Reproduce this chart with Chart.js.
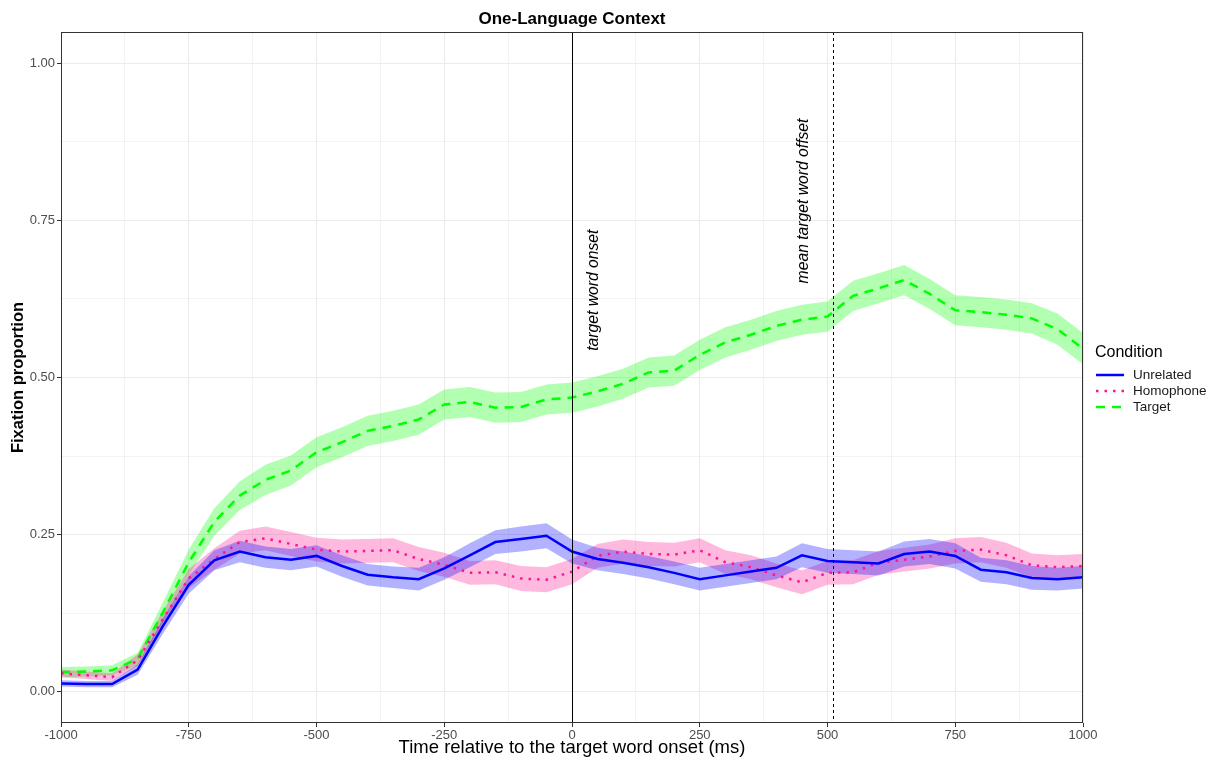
<!DOCTYPE html>
<html>
<head>
<meta charset="utf-8">
<script src="https://cdn.jsdelivr.net/npm/chart.js@4.4.1/dist/chart.umd.min.js"></script>
<style>
  body { margin: 0; background: #fff; }
  canvas { display: block; }
</style>
</head>
<body>
<canvas id="myChart" width="1222" height="760"></canvas>
<script>
// time bins (ms relative to target word onset)
var timeMs = [-1000,-950,-900,-850,-800,-750,-700,-650,-600,-550,-500,-450,-400,-350,-300,-250,-200,-150,-100,-50,
  0,50,100,150,200,250,300,350,400,450,500,550,600,650,700,750,800,850,900,950,1000];

// fixation proportions per condition
var unrelated = [0.013,0.012,0.012,0.035,0.105,0.170,0.209,0.223,0.214,0.210,0.216,0.200,0.186,0.182,0.179,0.196,0.217,0.238,0.243,0.248,
  0.223,0.211,0.205,0.198,0.189,0.179,0.185,0.191,0.197,0.217,0.208,0.206,0.204,0.219,0.223,0.216,0.194,0.190,0.181,0.179,0.182];
var homophone = [0.029,0.026,0.023,0.050,0.116,0.180,0.211,0.238,0.244,0.235,0.226,0.223,0.224,0.225,0.211,0.202,0.189,0.190,0.180,0.178,
  0.191,0.216,0.223,0.219,0.218,0.225,0.206,0.198,0.185,0.174,0.189,0.190,0.205,0.210,0.215,0.224,0.226,0.217,0.201,0.198,0.200];
var target = [0.031,0.032,0.034,0.052,0.127,0.206,0.270,0.312,0.337,0.352,0.381,0.397,0.415,0.423,0.433,0.457,0.461,0.452,0.453,0.465,
  0.468,0.478,0.490,0.508,0.511,0.536,0.556,0.568,0.582,0.592,0.597,0.630,0.642,0.655,0.633,0.607,0.604,0.600,0.594,0.577,0.546];

// ribbon half widths (standard error)
var seUnrelated = [0.005,0.005,0.005,0.008,0.012,0.014,0.016,0.017,0.017,0.017,0.017,0.017,0.017,0.017,0.018,0.018,0.019,0.019,0.020,0.020,
  0.019,0.018,0.018,0.018,0.018,0.018,0.018,0.018,0.018,0.019,0.019,0.019,0.019,0.020,0.020,0.020,0.019,0.019,0.019,0.018,0.018];
var seHomophone = [0.006,0.006,0.006,0.009,0.013,0.015,0.017,0.018,0.019,0.019,0.019,0.019,0.019,0.019,0.019,0.019,0.019,0.019,0.020,0.020,
  0.020,0.019,0.019,0.019,0.019,0.019,0.019,0.019,0.019,0.019,0.019,0.019,0.019,0.019,0.019,0.020,0.020,0.020,0.019,0.019,0.019];
var seTarget = [0.008,0.008,0.008,0.010,0.016,0.020,0.022,0.023,0.024,0.024,0.024,0.024,0.024,0.024,0.024,0.024,0.024,0.024,0.024,0.024,
  0.024,0.024,0.024,0.024,0.024,0.024,0.024,0.024,0.024,0.024,0.024,0.024,0.024,0.024,0.024,0.024,0.024,0.024,0.024,0.025,0.025];

var conditions = ['Unrelated', 'Homophone', 'Target'];
var xTicks = [-1000,-750,-500,-250,0,250,500,750,1000];
var yTicks = [0,0.25,0.5,0.75,1];
var onsetMs = 0;
var meanOffsetMs = 511;

var FONT = '"Liberation Sans", Arial, sans-serif';

function pts(arr) {
    return timeMs.map(function (t, i) { return {x: t, y: arr[i]}; });
}
function band(arr, se, sign) {
    return timeMs.map(function (t, i) { return {x: t, y: arr[i] + sign * se[i]}; });
}
function withMinors(major) {
    var out = [];
    for (var i = 0; i < major.length; i++) {
        out.push(major[i]);
        if (i < major.length - 1) out.push((major[i] + major[i + 1]) / 2);
    }
    return out;
}

var lineStyle = {pointRadius: 0, tension: 0, fill: false};

var decor = {
    id: 'decor',
    afterDatasetsDraw: function (chart) {
        var c = chart.ctx, a = chart.chartArea;
        var xs = chart.scales.x;
        c.save();
        c.strokeStyle = '#000';
        c.lineWidth = 1;
        var x0 = Math.round(xs.getPixelForValue(onsetMs)) + 0.5;
        c.beginPath(); c.moveTo(x0, a.top); c.lineTo(x0, a.bottom); c.stroke();
        var x1 = Math.round(xs.getPixelForValue(meanOffsetMs)) + 0.5;
        c.setLineDash([3, 3]);
        c.beginPath(); c.moveTo(x1, a.top); c.lineTo(x1, a.bottom); c.stroke();
        c.setLineDash([]);
        c.strokeStyle = '#333';
        c.strokeRect(a.left + 0.5, a.top + 0.5, a.right - a.left - 1, a.bottom - a.top - 1);
        c.restore();
    },
    afterDraw: function (chart) {
        var c = chart.ctx, a = chart.chartArea;
        var xs = chart.scales.x, ys = chart.scales.y;
        var cx = (a.left + a.right) / 2;
        c.save();
        c.fillStyle = '#000';
        c.textAlign = 'center';
        c.textBaseline = 'middle';
        c.font = 'bold 17px ' + FONT;
        c.fillText('One-Language Context', cx, 19);
        c.font = '18.5px ' + FONT;
        c.fillText('Time relative to the target word onset (ms)', cx, 748);
        c.save();
        c.translate(18, (a.top + a.bottom) / 2);
        c.rotate(-Math.PI / 2);
        c.font = 'bold 16.5px ' + FONT;
        c.fillText('Fixation proportion', 0, 0);
        c.restore();

        // rotated annotations
        c.font = 'italic 15.7px ' + FONT;
        c.save();
        c.translate(xs.getPixelForValue(42), ys.getPixelForValue(0.639));
        c.rotate(-Math.PI / 2);
        c.fillText('target word onset', 0, 0);
        c.restore();
        c.save();
        c.translate(xs.getPixelForValue(453), ys.getPixelForValue(0.781));
        c.rotate(-Math.PI / 2);
        c.fillText('mean target word offset', 0, 0);
        c.restore();

        // legend
        c.textAlign = 'left';
        c.font = '16px ' + FONT;
        c.fillText('Condition', 1095, 353);
        var cols = ['#0000ff', '#ff1493', '#00ff00'];
        var dashes = [[], [2.5, 6], [9, 7]];
        var ly = [375, 391, 407];
        c.font = '13.5px ' + FONT;
        for (var i = 0; i < conditions.length; i++) {
            c.strokeStyle = cols[i];
            c.lineWidth = 2.5;
            c.setLineDash(dashes[i]);
            c.beginPath(); c.moveTo(1096, ly[i]); c.lineTo(1124, ly[i]); c.stroke();
            c.setLineDash([]);
            c.fillStyle = '#1a1a1a';
            c.fillText(conditions[i], 1133, ly[i]);
        }
        c.restore();
    }
};

function chartdrawer(ctx) {
    var myChart = new Chart(ctx, {
        type: 'line',
        data: {
            datasets: [
                Object.assign({label: conditions[0], data: pts(unrelated), borderColor: '#0000ff', borderWidth: 2.5, order: 0}, lineStyle),
                Object.assign({label: conditions[1], data: pts(homophone), borderColor: '#ff1493', borderWidth: 2.5, borderDash: [2.5, 6], order: 0}, lineStyle),
                Object.assign({label: conditions[2], data: pts(target), borderColor: '#00ff00', borderWidth: 2.5, borderDash: [9, 7], order: 0}, lineStyle),
                Object.assign({data: band(unrelated, seUnrelated, -1), borderWidth: 0, order: 5}, lineStyle),
                Object.assign({}, lineStyle, {data: band(unrelated, seUnrelated, 1), borderWidth: 0, backgroundColor: 'rgba(0,0,255,0.3)', fill: '-1', order: 5}),
                Object.assign({data: band(homophone, seHomophone, -1), borderWidth: 0, order: 5}, lineStyle),
                Object.assign({}, lineStyle, {data: band(homophone, seHomophone, 1), borderWidth: 0, backgroundColor: 'rgba(255,20,147,0.3)', fill: '-1', order: 5}),
                Object.assign({data: band(target, seTarget, -1), borderWidth: 0, order: 5}, lineStyle),
                Object.assign({}, lineStyle, {data: band(target, seTarget, 1), borderWidth: 0, backgroundColor: 'rgba(0,255,0,0.3)', fill: '-1', order: 5})
            ]
        },
        options: {
            responsive: false,
            animation: false,
            layout: {padding: {left: 0, right: 139, top: 32, bottom: 0}},
            plugins: {
                legend: {display: false},
                tooltip: {enabled: false},
                filler: {drawTime: 'beforeDatasetsDraw'}
            },
            scales: {
                x: {
                    type: 'linear',
                    min: -1000,
                    max: 1000,
                    border: {display: false},
                    afterBuildTicks: function (s) { s.ticks = withMinors(xTicks).map(function (v) { return {value: v}; }); },
                    afterFit: function (s) { s.height = 37; },
                    grid: {
                        color: '#ebebeb',
                        lineWidth: function (c) { return xTicks.indexOf(c.tick.value) >= 0 ? 1 : 0.6; },
                        tickLength: 4,
                        tickColor: function (c) { return xTicks.indexOf(c.tick.value) >= 0 ? '#333' : 'rgba(0,0,0,0)'; }
                    },
                    ticks: {
                        autoSkip: false,
                        maxRotation: 0,
                        padding: 1,
                        color: '#4d4d4d',
                        font: {family: FONT, size: 13},
                        callback: function (v) { return xTicks.indexOf(v) >= 0 ? String(v) : ''; }
                    }
                },
                y: {
                    min: -0.05,
                    max: 1.05,
                    border: {display: false},
                    afterBuildTicks: function (s) { s.ticks = withMinors(yTicks).map(function (v) { return {value: v}; }); },
                    afterFit: function (s) { s.width = 61; },
                    grid: {
                        color: '#ebebeb',
                        lineWidth: function (c) { return yTicks.indexOf(c.tick.value) >= 0 ? 1 : 0.6; },
                        tickLength: 4,
                        tickColor: function (c) { return yTicks.indexOf(c.tick.value) >= 0 ? '#333' : 'rgba(0,0,0,0)'; }
                    },
                    ticks: {
                        padding: 2,
                        color: '#4d4d4d',
                        font: {family: FONT, size: 13},
                        callback: function (v) { return yTicks.indexOf(v) >= 0 ? v.toFixed(2) : ''; }
                    }
                }
            }
        },
        plugins: [decor]
    });
}

var ctx = document.getElementById('myChart').getContext('2d');
chartdrawer(ctx);
</script>
</body>
</html>
